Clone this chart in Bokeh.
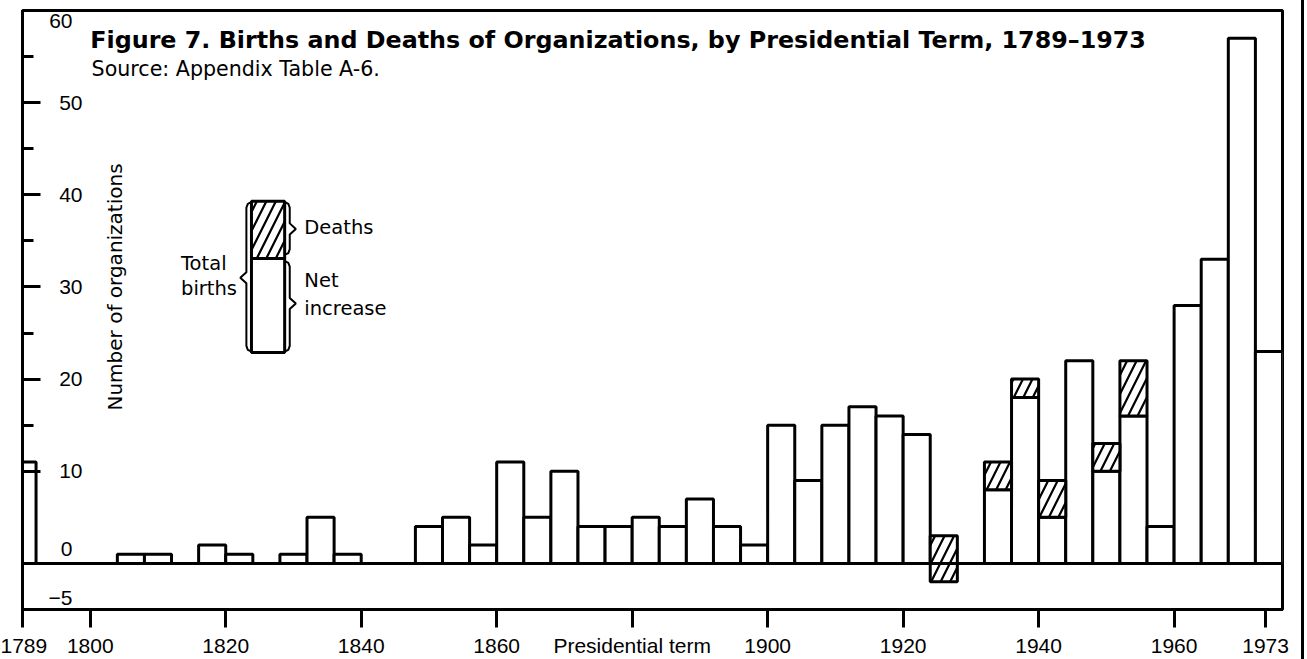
import math
from bokeh.plotting import figure
from bokeh.models import FixedTicker, Span
from bokeh.core.properties import value
from bokeh.embed import file_html
from bokeh.resources import INLINE

# ---------------- data ----------------
terms = [1789, 1793, 1797, 1801, 1805, 1809, 1813, 1817, 1821, 1825, 1829, 1833,
         1837, 1841, 1845, 1849, 1853, 1857, 1861, 1865, 1869, 1873, 1877, 1881,
         1885, 1889, 1893, 1897, 1901, 1905, 1909, 1913, 1917, 1921, 1925, 1929,
         1933, 1937, 1941, 1945, 1949, 1953, 1957, 1961, 1965, 1969, 1973]
births = [11, 0, 0, 0, 1, 1, 0, 2, 1, 0, 1, 5,
          1, 0, 0, 4, 5, 2, 11, 5, 10, 4, 4, 5,
          4, 7, 4, 2, 15, 9, 15, 17, 16, 14, 3, 0,
          11, 20, 9, 22, 13, 22, 4, 28, 33, 57, 23]
deaths = [0, 0, 0, 0, 0, 0, 0, 0, 0, 0, 0, 0,
          0, 0, 0, 0, 0, 0, 0, 0, 0, 0, 0, 0,
          0, 0, 0, 0, 0, 0, 0, 0, 0, 0, 5, 0,
          3, 2, 4, 0, 3, 6, 0, 0, 0, 0, 0]
term_years = 4

x_tick_labels = ["1789", "1800", "1820", "1840", "1860", "Presidential term",
                 "1900", "1920", "1940", "1960", "1973"]
x_tick_pos = [1791.0, 1801, 1821, 1841, 1861, 1881, 1901, 1921, 1941, 1961, 1974.5]
y_major = [10, 20, 30, 40, 50]
y_minor = [15, 25, 35, 45, 55]
y_extra_vals = [60, 0, -5]
y_extra_text = ["60", "0", "\u22125"]

TITLE = "Figure 7. Births and Deaths of Organizations, by Presidential Term, 1789\u20131973"
SUBTITLE = "Source: Appendix Table A-6."

X0, X1 = 1791.0, 1977
Y0, Y1 = -5, 60

# ---------------- figure ----------------
p = figure(width=1304, height=659, x_range=(X0, X1), y_range=(Y0, Y1),
           output_backend="svg", toolbar_location=None,
           min_border_left=22, min_border_right=22, min_border_top=10,
           min_border_bottom=50,
           styles={"border-right": "3px solid black"})
p.grid.visible = False
p.outline_line_color = "black"
p.outline_line_width = 3
p.background_fill_color = "white"
p.border_fill_color = "white"

# y axis: ticks and labels inside the frame
ya = p.yaxis[0]
ya.ticker = FixedTicker(ticks=y_major, minor_ticks=y_minor)
ya.major_tick_in = 18
ya.major_tick_out = 0
ya.minor_tick_in = 11
ya.minor_tick_out = 0
ya.major_tick_line_width = 3
ya.minor_tick_line_width = 3
ya.axis_line_width = 3
ya.major_label_standoff = -60
ya.major_label_text_font = "Liberation Sans"
ya.major_label_text_font_size = "21px"
ya.major_label_text_color = "black"

xa = p.xaxis[0]
xa.ticker = FixedTicker(ticks=x_tick_pos, minor_ticks=[])
xa.major_label_overrides = {pos: lab for pos, lab in zip(x_tick_pos, x_tick_labels)}
xa.major_tick_in = 0
xa.major_tick_out = 18
xa.minor_tick_out = 0
xa.minor_tick_in = 0
xa.major_tick_line_width = 3
xa.axis_line_width = 3
xa.major_label_standoff = 6
xa.major_label_text_font = "Liberation Sans"
xa.major_label_text_font_size = "21px"
xa.major_label_text_color = "black"

# ---------------- bars ----------------
lefts = [t for t in terms]
rights = [t + term_years for t in terms]
net = [b - d for b, d in zip(births, deaths)]
net_top = [max(n, 0) for n in net]

p.quad(left=lefts, right=rights, bottom=[0] * len(terms), top=net_top,
       fill_color="white", line_color="black", line_width=3)

hl = [l for l, d in zip(lefts, deaths) if d > 0]
hr = [r for r, d in zip(rights, deaths) if d > 0]
hb = [n for n, d in zip(net, deaths) if d > 0]
ht = [b for b, d in zip(births, deaths) if d > 0]
p.quad(left=hl, right=hr, bottom=hb, top=ht, fill_color="white",
       hatch_pattern="/", hatch_color="black", hatch_weight=2.2, hatch_scale=19,
       line_color="black", line_width=3)

p.add_layout(Span(location=0, dimension="width", line_color="black", line_width=3))

# ---------------- remaining y labels (offset as in the original) ----------------
y_dy = {60: 10, 0: -14, -5: -12}
p.text(x=[X0] * len(y_extra_vals), y=y_extra_vals, text=y_extra_text,
       x_offset=[50] * len(y_extra_vals),
       y_offset=[y_dy[v] for v in y_extra_vals],
       text_align="right", text_baseline="middle",
       text_font=value("Liberation Sans"), text_font_size="21px", text_color="black")

p.text(x=[1804.7], y=[30.0], text=["Number of organizations"], angle=math.pi / 2,
       text_align="center", text_baseline="middle",
       text_font=value("DejaVu Sans"), text_font_size="20px", text_color="black")

# ---------------- title ----------------
p.text(x=[1801.0], y=[56.8], text=[TITLE], text_align="left",
       text_baseline="alphabetic", text_font=value("DejaVu Sans"),
       text_font_style="bold", text_font_size="23.8px", text_color="black")
p.text(x=[1801.2], y=[53.7], text=[SUBTITLE], text_align="left",
       text_baseline="alphabetic", text_font=value("DejaVu Sans"),
       text_font_size="20.6px", text_color="black")

# ---------------- legend graphic ----------------
LX0, LX1 = 1824.8, 1829.7
LB, LS, LT = 22.9, 33.1, 39.3
p.quad(left=[LX0], right=[LX1], bottom=[LB], top=[LS], fill_color="white",
       line_color="black", line_width=3)
p.quad(left=[LX0], right=[LX1], bottom=[LS], top=[LT], fill_color="white",
       hatch_pattern="/", hatch_color="black", hatch_weight=2.2, hatch_scale=19,
       line_color="black", line_width=3)


def brace(x, y0, y1, ym, d, cw=0.7, ch=0.6, tw=0.9):
    # d = -1: tip points left ("{"), d = +1: tip points right ("}")
    e = -d
    xs = [x + e * cw, x + e * cw * 0.3, x, x, x - e * tw, x, x, x + e * cw * 0.3, x + e * cw]
    ys = [y1, y1 - ch * 0.3, y1 - ch, ym + ch, ym, ym - ch, y0 + ch, y0 + ch * 0.3, y0]
    return xs, ys


bx, by = [], []
for args in [(1824.05, 23.0, 39.2, 31.0, -1),
             (1830.45, 33.5, 39.2, 36.3, 1),
             (1830.45, 23.0, 32.8, 28.2, 1)]:
    xs, ys = brace(*args)
    bx.append(xs)
    by.append(ys)
p.multi_line(xs=bx, ys=by, line_color="black", line_width=2)

leg_font = dict(text_font=value("DejaVu Sans"), text_font_size="19.5px",
                text_color="black", text_baseline="middle")
p.text(x=[1832.6], y=[36.45], text=["Deaths"], text_align="left", **leg_font)
p.text(x=[1832.6, 1832.6], y=[30.68, 27.64], text=["Net", "increase"],
       text_align="left", **leg_font)
p.text(x=[1814.4, 1814.4], y=[32.53, 29.8], text=["Total", "births"],
       text_align="left", **leg_font)

open("out.html", "w").write(file_html(p, INLINE))
